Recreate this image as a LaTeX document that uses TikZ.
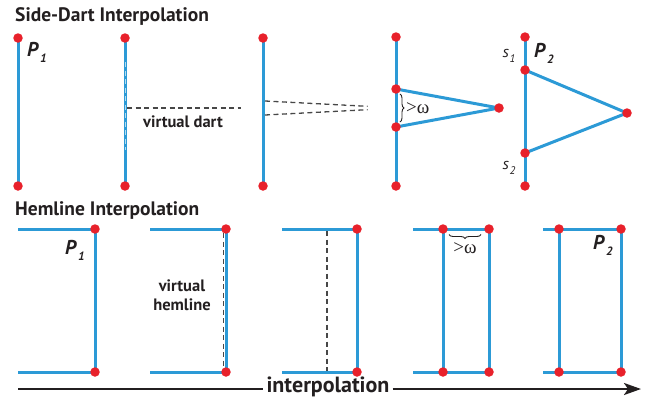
\documentclass[tikz,border=0pt]{standalone}
\usepackage{fontspec}
\setmainfont{PT Sans}
\newfontfamily\greekfont{Liberation Serif}
\usetikzlibrary{arrows.meta,decorations.pathreplacing,calc}
\definecolor{edgeblue}{HTML}{2C9AD6}
\definecolor{dotred}{HTML}{E8212B}
\definecolor{textdark}{HTML}{231F20}
\newcommand\plab[2]{\textbf{\textit{#1}}\kern1pt\raisebox{-0.6ex}{\fontsize{12}{12}\selectfont\textbf{\textit{#2}}}}
\newcommand\slab[1]{\textit{s}\kern0.5pt\raisebox{-0.55ex}{\fontsize{11}{11}\selectfont\textit{#1}}}
\tikzset{
  edge/.style={draw=edgeblue,line width=3pt},
  virt/.style={draw=black!72,line width=1.3pt,dash pattern=on 5pt off 3.5pt},
  dot/.style={circle,fill=dotred,inner sep=0pt,minimum size=9.5pt},
  title/.style={font=\fontsize{19.5}{19.5}\selectfont\bfseries,text=textdark,anchor=west,inner sep=0pt},
  lab/.style={font=\fontsize{16.5}{16.5}\selectfont\bfseries,text=textdark,inner sep=0pt},
  biglab/.style={font=\fontsize{20}{20}\selectfont,text=textdark,inner sep=0pt},
  slabel/.style={font=\fontsize{16}{16}\selectfont,text=textdark,inner sep=0pt},
  omega/.style={font=\fontsize{19}{19}\selectfont\greekfont,text=textdark,inner sep=0pt},
  brace/.style={decorate,decoration={brace,amplitude=4pt},draw=textdark,line width=0.9pt}
}
\begin{document}
\begin{tikzpicture}[x=1pt,y=-1pt]
\useasboundingbox (0,0) rectangle (645,405);

% ---------- Side-dart interpolation ----------
\node[title] (t1) at (15,16) {Side-Dart Interpolation};

% stage 1
\coordinate (a1) at (18,38);  \coordinate (a2) at (18,186);
\draw[edge] (a1) -- (a2);
\node[biglab,anchor=west] (pa) at (27,52) {\plab{P}{1}};

% stage 2
\coordinate (b1) at (125,38); \coordinate (b2) at (125,186);
\coordinate (bv1) at (125.8,62); \coordinate (bv2) at (125.8,150);
\coordinate (bm) at (127,108); \coordinate (bd) at (241,108);
\draw[edge] (b1) -- (b2);
\draw[virt,draw=white!65!edgeblue,line width=1.2pt] (bv1) -- (bv2);
\draw[virt] (bm) -- (bd);
\node[lab] (vd) at (183,122) {virtual dart};

% stage 3
\coordinate (c1) at (263,38); \coordinate (c2) at (263,186);
\coordinate (cu) at (265,101); \coordinate (cl) at (265,115);
\coordinate (cx) at (400,108);
\draw[edge] (c1) -- (c2);
\draw[virt] (cu) -- ($(cu)!0.76!(cx)$);
\draw[virt] (cl) -- ($(cl)!0.76!(cx)$);

% stage 4
\coordinate (d1) at (396,37); \coordinate (d2) at (396,89);
\coordinate (d3) at (396,127); \coordinate (d4) at (396,186);
\coordinate (dx) at (499,108);
\draw[edge] (d1) -- (d4);
\draw[edge,line join=round] (d2) -- (dx) -- (d3);
\draw[brace] (400,94) -- (400,122);
\node[omega,anchor=west] (dw) at (406,108) {>ω};

% stage 5
\coordinate (e1) at (525,37); \coordinate (e2) at (525,70);
\coordinate (e3) at (525,153); \coordinate (e4) at (525,186);
\coordinate (ex) at (627,113);
\draw[edge] (e1) -- (e4);
\draw[edge,line join=round] (e2) -- (ex) -- (e3);
\node[biglab,anchor=west] (pe) at (534,53) {\plab{P}{2}};
\node[slabel] (s1) at (509,56) {\slab{1}};
\node[slabel] (s2) at (509,168) {\slab{2}};

\foreach \p in {a1,a2,b1,b2,c1,c2,d1,d2,d3,d4,dx,e1,e2,e3,e4,ex}
  \node[dot] at (\p) {};

% ---------- Hemline interpolation ----------
\node[title] (t2) at (15,211) {Hemline Interpolation};

% stage 1
\coordinate (f0) at (18,229); \coordinate (f1) at (95,229);
\coordinate (f3) at (18,372); \coordinate (f2) at (95,372);
\draw[edge] (f0) -- (f1) -- (f2) -- (f3);
\node[biglab,anchor=west] (pf) at (65,250) {\plab{P}{1}};

% stage 2
\coordinate (g0) at (150,229); \coordinate (g1) at (226,229);
\coordinate (g3) at (150,372); \coordinate (g2) at (226,372);
\coordinate (gv1) at (223.3,233); \coordinate (gv2) at (223.3,369);
\draw[edge] (g0) -- (g1) -- (g2) -- (g3);
\draw[virt] (gv1) -- (gv2);
\node[lab,align=center] (vh) at (182,295) {virtual\\[3pt]hemline};

% stage 3
\coordinate (h0) at (282,229); \coordinate (h1) at (357,229);
\coordinate (h3) at (282,372); \coordinate (h2) at (357,372);
\coordinate (hv1) at (327,231); \coordinate (hv2) at (327,371);
\draw[edge] (h0) -- (h1) -- (h2) -- (h3);
\draw[virt] (hv1) -- (hv2);

% stage 4
\coordinate (i0) at (413,229); \coordinate (i1) at (443,229); \coordinate (i2) at (489,229);
\coordinate (i3) at (413,372); \coordinate (i4) at (443,372); \coordinate (i5) at (489,372);
\draw[edge] (i0) -- (i2) -- (i5) -- (i3);
\draw[edge] (i1) -- (i4);
\draw[brace] (481,234.5) -- (449,234.5);
\node[omega] (iw) at (465,248) {>ω};

% stage 5
\coordinate (j0) at (543,229); \coordinate (j1) at (559,229); \coordinate (j2) at (621,229);
\coordinate (j3) at (543,372); \coordinate (j4) at (559,372); \coordinate (j5) at (621,372);
\draw[edge] (j0) -- (j2) -- (j5) -- (j3);
\draw[edge] (j1) -- (j4);
\node[biglab,anchor=west] (pj) at (593,245) {\plab{P}{2}};

\foreach \p in {f1,f2,g1,g2,h1,h2,i1,i2,i4,i5,j1,j2,j4,j5}
  \node[dot] at (\p) {};

% ---------- interpolation arrow ----------
\node[font=\fontsize{22}{22}\selectfont\bfseries,text=textdark,inner sep=3pt] (ip) at (328,387) {interpolation};
\coordinate (ar0) at (18,389); \coordinate (ar1) at (641,389);
\draw[line width=2.3pt,textdark] (ar0) -- (ip.west |- ar0);
\draw[line width=2.3pt,textdark,-{Stealth[length=17pt,width=12pt,inset=4pt]}] (ip.east |- ar1) -- (ar1);
\end{tikzpicture}
\end{document}
